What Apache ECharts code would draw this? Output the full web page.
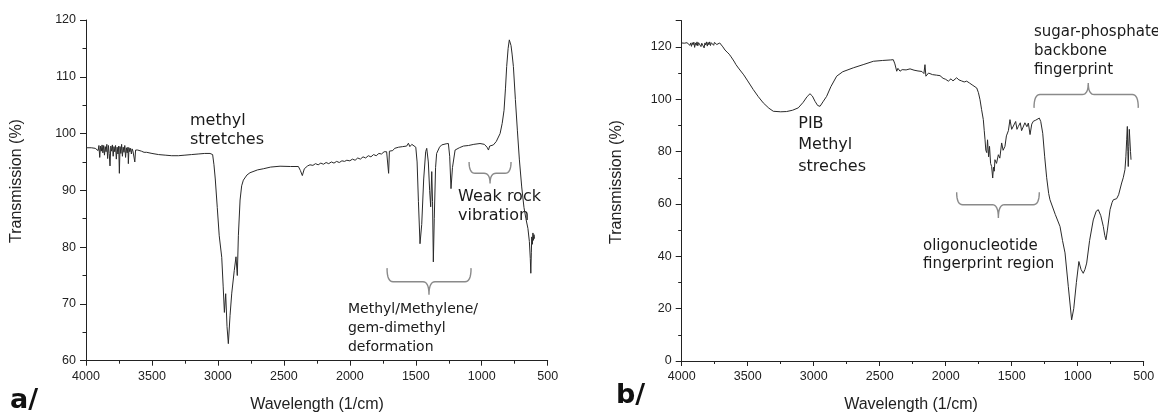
<!DOCTYPE html>
<html><head><meta charset="utf-8">
<script src="https://cdn.jsdelivr.net/npm/echarts@6/dist/echarts.min.js"></script>
<style>html,body{margin:0;padding:0;background:#fff}#c{width:1158px;height:414px}</style>
</head><body><div id="c"></div>
<script>
// ---------- data (wavenumber [1/cm], transmission [%]) ----------
const spectrumA = [
[4000,97.5],[3960,97.5],[3930,97.4],[3915,97.6],[3908,97.0],[3902,97.9],[3896,95.8],[3890,97.8],[3884,96.9],[3878,98.0],[3872,96.6],[3866,97.9],[3860,96.2],[3854,97.7],[3848,96.8],[3842,98.1],[3836,95.6],[3830,97.9],[3824,96.5],[3818,94.3],[3812,97.8],[3806,96.9],[3800,98.0],[3794,96.0],[3788,97.7],[3782,96.8],[3776,97.9],[3770,95.5],[3764,97.6],[3758,96.4],[3752,97.8],[3747,93.0],[3742,97.7],[3736,96.5],[3730,98.1],[3724,96.0],[3718,97.6],[3712,96.7],[3706,97.9],[3700,95.8],[3694,97.5],[3688,96.6],[3682,97.6],[3679,94.7],[3674,97.5],[3668,96.8],[3662,97.4],[3656,96.4],[3650,97.3],[3644,96.9],[3638,97.2],[3630,95.0],[3624,97.1],[3616,96.8],[3608,97.1],[3600,96.9],[3580,96.9],[3560,96.7],[3540,96.7],[3500,96.5],[3450,96.3],[3400,96.2],[3350,96.1],[3300,96.1],[3250,96.2],[3200,96.3],[3150,96.4],[3100,96.5],[3060,96.5],[3040,96.3],
[3030,94.5],[3020,92],[3005,87],[2990,82],[2971,78.2],[2960,73],[2951,68.5],[2941,71.8],[2931,66],[2921,63.0],[2908,68],[2895,71.9],[2876,75.9],[2863,78.3],[2853,75.0],[2845,82],[2832,88.3],[2820,90.8],[2807,91.8],[2780,92.7],[2757,93.1],[2700,93.6],[2656,93.8],[2600,94.1],[2529,94.25],[2450,94.2],[2390,94.2],[2375,93.5],[2360,92.6],[2345,93.8],[2320,94.3],[2302,94.5],
[2280,94.4],[2260,94.7],[2240,94.5],[2220,94.8],[2200,94.6],[2180,94.9],[2160,94.7],[2140,95.0],[2120,94.8],[2100,95.1],[2080,94.9],[2060,95.2],[2040,95.1],[2023,95.3],[2000,95.2],[1980,95.5],[1960,95.3],[1940,95.7],[1920,95.5],[1900,95.9],[1880,95.7],[1860,96.1],[1840,95.9],[1820,96.3],[1800,96.1],[1780,96.5],[1760,96.4],[1740,96.8],[1721,96.8],[1712,96.5],[1706,93.0],[1700,96.9],[1690,97.2],[1675,97.0],[1660,97.4],[1645,97.2],[1630,97.6],[1615,97.4],[1600,97.7],[1585,97.5],[1569,97.8],[1556,98.3],[1545,97.7],[1530,98.1],[1518,98.0],
[1500,97.6],[1490,95],[1480,88],[1468,80.6],[1455,84],[1440,92],[1425,96.8],[1417,97.4],[1405,95],[1395,90],[1387,87.1],[1379,93.3],[1373,88],[1367,77.4],[1360,85],[1350,94],[1342,96.5],[1320,97.6],[1304,98.0],[1270,98.2],[1253,98.25],[1243,96],[1233,90.3],[1222,94],[1202,97.1],[1170,97.5],[1139,97.8],[1100,97.9],[1060,98.1],[1013,98.25],[980,98.1],[960,97.6],[949,97.1],[940,97.8],[930,97.5],[912,98.0],[890,98.6],[861,100],[845,101.8],[831,104.1],[820,108],[811,111.8],[800,115],[791,116.5],[785,116.6],[778,115.5],[770,114],[760,111.8],[745,106],[730,100.6],[715,95.5],[697,90.6],[680,87],[665,85],[650,83.3],[639,81.0],[632,78],[628,75.4],[624,79],[621,81.8],[616,80.5],[612,82.5],[608,81.2],[604,82.2],[600,81.5]
];
const spectrumB = [
[4000,121.5],[3980,121.4],[3960,121.6],[3950,121.0],[3945,121.7],[3938,120.6],[3932,121.5],[3926,120.2],[3920,121.6],[3914,120.8],[3908,121.8],[3902,119.8],[3896,121.5],[3890,120.6],[3884,121.9],[3878,120.4],[3872,121.6],[3866,121.0],[3860,121.9],[3854,120.1],[3848,121.4],[3842,120.9],[3836,121.8],[3830,119.6],[3824,121.5],[3818,120.7],[3812,121.9],[3806,120.3],[3800,121.7],[3794,120.8],[3788,121.9],[3782,120.5],[3776,121.6],[3770,121.0],[3764,121.8],[3758,120.6],[3752,121.7],[3746,121.1],[3740,121.9],[3734,120.9],[3728,121.6],[3720,121.2],[3712,121.5],[3705,120.8],[3697,121.0],[3688,120.0],[3680,119.6],[3672,118.8],[3664,118.9],[3656,118.0],[3648,117.9],[3640,117.2],[3634,117.4],[3626,116.2],[3618,116.0],[3610,115.0],[3600,114.2],[3590,113.3],[3580,112.6],[3570,111.9],[3558,111.3],[3530,109.3],[3500,107.0],[3458,103.7],[3420,101.0],[3382,98.6],[3340,96.6],[3306,95.4],[3250,95.2],[3205,95.3],[3160,95.8],[3117,96.7],[3080,98.8],[3050,101.0],[3028,102.1],[3010,101.2],[2990,99.2],[2970,97.6],[2952,97.3],[2930,99.0],[2902,101.1],[2870,104.8],[2826,108.8],[2780,110.5],[2700,112.0],[2620,113.3],[2548,114.5],[2480,114.8],[2420,115.0],[2397,115.1],[2385,113.5],[2371,110.7],[2362,111.8],[2346,110.7],[2330,111.3],[2300,111.2],[2270,111.6],[2240,111.1],[2210,110.8],[2180,110.6],[2165,109.8],[2157,113.2],[2150,108.8],[2130,110.0],[2100,109.4],[2070,109.2],[2043,109.0],[2020,108.0],[2000,107.6],[1980,106.9],[1960,107.8],[1945,107.0],[1917,108.2],[1900,107.4],[1880,107.0],[1860,106.6],[1841,106.9],[1820,106.2],[1800,105.5],[1785,105.0],[1765,104.3],[1752,102.5],[1740,99.8],[1728,96],[1715,92.2],[1708,88],[1702,84.5],[1696,80.5],[1689,79.6],[1683,84.5],[1675,78.0],[1668,82],[1660,75.5],[1652,74.3],[1644,69.9],[1638,74.0],[1632,72.5],[1627,76.9],[1615,75.5],[1601,78.8],[1590,77.5],[1576,83.3],[1565,80.5],[1551,82.0],[1540,86],[1525,88],[1513,92.2],[1500,88.5],[1488,89.0],[1470,91.5],[1460,88.5],[1450,89.6],[1435,91.0],[1425,88.0],[1412,88.4],[1400,91.0],[1385,89.5],[1374,90.9],[1361,86.5],[1348,90.5],[1336,91.6],[1318,92.0],[1291,92.8],[1280,91.5],[1265,87],[1250,78],[1235,70],[1220,64],[1210,61.6],[1170,56],[1134,51.4],[1115,46],[1096,41.3],[1071,28.4],[1046,15.7],[1030,20],[1010,30],[991,38.0],[975,35],[958,33.5],[945,35],[932,37.4],[910,46],[882,53.9],[860,57.2],[844,57.8],[825,55.5],[806,51.4],[795,48],[786,46.3],[775,50],[755,57.8],[740,60.5],[730,61.6],[705,62.0],[690,63.5],[679,62.9],[667,68.0],[655,70],[642,73.1],[635,78],[629,84.5],[624,89.6],[620,80],[617,74.3],[613,82],[609,88.5],[604,89.0],[600,80],[596,76.9]
];
const xTickLabels = [4000,3500,3000,2500,2000,1500,1000,500];
const yTickLabelsA = [60,70,80,90,100,110,120];
const yTickLabelsB = [0,20,40,60,80,100,120];

// ---------- annotations (data coordinates) ----------
const notes = [
  {grid:0, at:[3212,101.2], lines:['methyl','stretches'], size:16, gap:19},
  {grid:0, at:[1180,87.8], lines:['Weak rock','vibration'], size:16, gap:19},
  {grid:0, at:[2014,68.1], lines:['Methyl/Methylene/','gem-dimethyl','deformation'], size:14, gap:18.7},
  {grid:1, at:[3117,88.4], lines:['PIB','Methyl','streches'], size:16, gap:21.3},
  {grid:1, at:[1331,123.8], lines:['sugar-phosphate','backbone','fingerprint'], size:15, gap:19},
  {grid:1, at:[2172,41.9], lines:['oligonucleotide','fingerprint region'], size:15, gap:18.3}
];
// braces: x from, x to, x of pointer, y of tips, y of body, y of pointer
const braces = [
  {grid:0, x1:1718, x2:1081, xm:1400, yTip:76.3, yBody:73.9, yPtr:71.6},
  {grid:0, x1:1096, x2:778, xm:937, yTip:95.0, yBody:93.0, yPtr:91.2},
  {grid:1, x1:1331, x2:541, xm:920, yTip:96.7, yBody:101.8, yPtr:106.2},
  {grid:1, x1:1917, x2:1291, xm:1601, yTip:64.5, yBody:59.7, yPtr:54.6}
];

const chart = echarts.init(document.getElementById('c'), null, {renderer:'canvas'});
const tickFont = {fontFamily:'Liberation Sans, Arial, sans-serif', fontSize:12.5, color:'#222', formatter:v => String(v)};
function xAxis(i){
  return {gridIndex:i, type:'value', min:xTickLabels[xTickLabels.length-1], max:xTickLabels[0], interval:500, inverse:true,
    axisLine:{onZero:false, lineStyle:{color:'#222', width:1}},
    axisTick:{length:5, lineStyle:{color:'#222'}},
    minorTick:{show:true, splitNumber:2, length:3, lineStyle:{color:'#222'}},
    splitLine:{show:false},
    axisLabel:Object.assign({margin:9, showMinLabel:true, showMaxLabel:true}, tickFont)};
}
function yAxis(i, min, max, interval, hideMax){
  return {gridIndex:i, type:'value', min:min, max:max, interval:interval,
    axisLine:{show:true, onZero:false, lineStyle:{color:'#222', width:1}},
    axisTick:{show:true, length:6, lineStyle:{color:'#222'}},
    minorTick:{show:true, splitNumber:2, length:3.5, lineStyle:{color:'#222'}},
    splitLine:{show:false},
    axisLabel:Object.assign({margin:10, showMaxLabel:!hideMax}, tickFont)};
}
const lineStyle = {color:'#2a2a2a', width:1};
chart.setOption({
  animation:false,
  backgroundColor:'#fff',
  grid:[
    {left:86, top:20, width:461.7, height:340.7},
    {left:681.7, top:20.7, width:462, height:340.3}
  ],
  xAxis:[xAxis(0), xAxis(1)],
  yAxis:[yAxis(0, yTickLabelsA[0], yTickLabelsA[yTickLabelsA.length-1], 10, false),
         yAxis(1, yTickLabelsB[0], 130, 20, true)],
  series:[
    {type:'line', xAxisIndex:0, yAxisIndex:0, data:spectrumA, showSymbol:false, symbol:'none', lineStyle:lineStyle, silent:true},
    {type:'line', xAxisIndex:1, yAxisIndex:1, data:spectrumB, showSymbol:false, symbol:'none', lineStyle:lineStyle, silent:true}
  ]
});

function px(g, p){ return chart.convertToPixel({gridIndex:g}, p); }
const graphics = [];
const axisFont = '16px "Liberation Sans", Arial, sans-serif';
graphics.push({type:'text', x:16.5, y:181, rotation:Math.PI/2, style:{text:'Transmission (%)', font:axisFont, fill:'#222', align:'center', verticalAlign:'middle'}});
graphics.push({type:'text', x:617, y:182, rotation:Math.PI/2, style:{text:'Transmission (%)', font:axisFont, fill:'#222', align:'center', verticalAlign:'middle'}});
graphics.push({type:'text', x:317, y:405, style:{text:'Wavelength (1/cm)', font:axisFont, fill:'#222', align:'center', verticalAlign:'middle'}});
graphics.push({type:'text', x:911, y:405, style:{text:'Wavelength (1/cm)', font:axisFont, fill:'#222', align:'center', verticalAlign:'middle'}});
graphics.push({type:'text', x:10, y:401, style:{text:'a/', font:'bold 27px "DejaVu Sans", sans-serif', fill:'#111', align:'left', verticalAlign:'middle'}});
graphics.push({type:'text', x:616, y:396, style:{text:'b/', font:'bold 27px "DejaVu Sans", sans-serif', fill:'#111', align:'left', verticalAlign:'middle'}});

notes.forEach(n => {
  const p = px(n.grid, n.at);
  n.lines.forEach((t, k) => {
    graphics.push({type:'text', x:p[0], y:p[1] + k*n.gap - 0.35*n.size,
      style:{text:t, font:n.size + 'px "DejaVu Sans", sans-serif', fill:'#1a1a1a', align:'left', verticalAlign:'middle'}});
  });
});
function quad(pts, p0, c, p1){
  for (let s = 1; s <= 8; s++) {
    const t = s/8, u = 1-t;
    pts.push([u*u*p0[0] + 2*u*t*c[0] + t*t*p1[0], u*u*p0[1] + 2*u*t*c[1] + t*t*p1[1]]);
  }
}
braces.forEach(b => {
  const a = px(b.grid, [b.x1, b.yTip]);
  const c = px(b.grid, [b.x2, b.yTip]);
  const m = px(b.grid, [b.xm, b.yPtr]);
  const yb = px(b.grid, [b.xm, b.yBody])[1];
  const r = 6;
  const pts = [a.slice()];
  quad(pts, a, [a[0], yb], [a[0]+r, yb]);
  pts.push([m[0]-r, yb]);
  quad(pts, [m[0]-r, yb], [m[0], yb], m);
  quad(pts, m, [m[0], yb], [m[0]+r, yb]);
  pts.push([c[0]-r, yb]);
  quad(pts, [c[0]-r, yb], [c[0], yb], c);
  graphics.push({type:'polyline', shape:{points:pts}, style:{fill:null, stroke:'#8a8a8a', lineWidth:1.4}});
});
chart.setOption({graphic:graphics});
</script>
</body></html>
